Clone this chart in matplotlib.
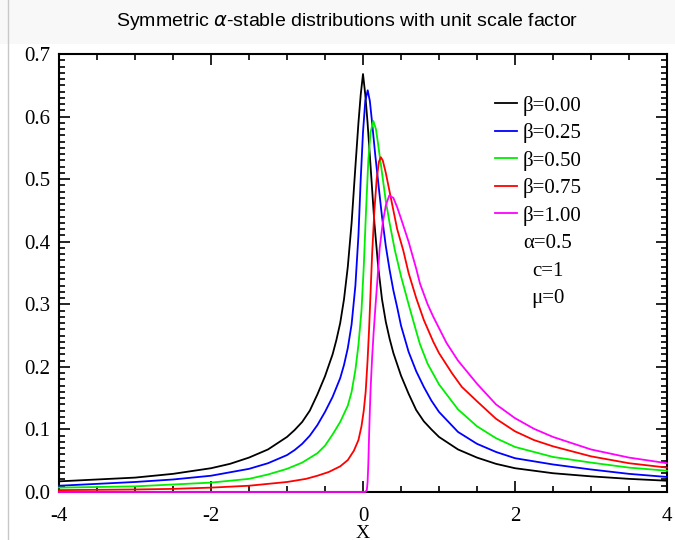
import numpy as np
import matplotlib
matplotlib.use('Agg')
import matplotlib.pyplot as plt
from matplotlib.ticker import MultipleLocator, FormatStrFormatter

# values
x_b000 = [-4, -3.5, -3, -2.5, -2, -1.75, -1.5, -1.25, -1, -0.9, -0.8, -0.7, -0.6, -0.5, -0.4, -0.35, -0.3, -0.25,
          -0.2, -0.15, -0.1, -0.06, -0.03, 0,
          0.03, 0.06, 0.1, 0.15, 0.2, 0.25, 0.3, 0.35, 0.4, 0.5, 0.6, 0.7, 0.8, 0.9, 1, 1.25, 1.5, 1.75,
          2, 2.5, 3, 3.5, 4]
y_b000 = [0.017, 0.020, 0.023, 0.029, 0.038, 0.045, 0.055, 0.068, 0.088, 0.099, 0.112, 0.130, 0.156, 0.185, 0.220, 0.243, 0.270, 0.308,
          0.36, 0.43, 0.52, 0.59, 0.635, 0.668,
          0.635, 0.59, 0.52, 0.43, 0.36, 0.308, 0.272, 0.245, 0.222, 0.186, 0.157, 0.131, 0.113, 0.100, 0.088, 0.068, 0.055, 0.045,
          0.038, 0.030, 0.025, 0.021, 0.018]

x_b025 = [-4, -3.5, -3, -2.5, -2, -1.5, -1.25, -1, -0.9, -0.8, -0.7, -0.6, -0.5, -0.4, -0.3, -0.25, -0.2, -0.15,
          -0.1, -0.06, -0.03, 0, 0.03, 0.062,
          0.09, 0.12, 0.16, 0.2, 0.25, 0.3, 0.35, 0.4, 0.45, 0.5, 0.6, 0.7, 0.8, 0.9, 1, 1.25, 1.5, 1.75,
          2, 2.5, 3, 3.5, 4]
y_b025 = [0.010, 0.013, 0.016, 0.020, 0.026, 0.037, 0.046, 0.059, 0.067, 0.077, 0.090, 0.107, 0.128, 0.152, 0.182, 0.203, 0.230, 0.268,
          0.33, 0.41, 0.50, 0.575, 0.625, 0.642,
          0.625, 0.59, 0.54, 0.495, 0.44, 0.393, 0.355, 0.322, 0.295, 0.266, 0.224, 0.193, 0.168, 0.146, 0.128, 0.096, 0.077, 0.064,
          0.054, 0.044, 0.036, 0.029, 0.024]

x_b050 = [-4, -3.5, -3, -2.5, -2, -1.5, -1.25, -1, -0.8, -0.6, -0.5, -0.4, -0.3, -0.2, -0.15, -0.1, -0.06, -0.02,
          0.01, 0.04, 0.07, 0.1, 0.136,
          0.17, 0.2, 0.25, 0.3, 0.35, 0.42, 0.5, 0.6, 0.7, 0.75, 0.85, 1, 1.25, 1.5, 1.75, 2, 2.5, 3, 3.5, 4]
y_b050 = [0.007, 0.008, 0.009, 0.012, 0.015, 0.021, 0.028, 0.037, 0.047, 0.062, 0.074, 0.092, 0.112, 0.138, 0.160, 0.195, 0.235, 0.29,
          0.36, 0.45, 0.53, 0.575, 0.593,
          0.58, 0.555, 0.51, 0.465, 0.43, 0.386, 0.345, 0.30, 0.257, 0.236, 0.205, 0.172, 0.132, 0.105, 0.086, 0.072, 0.056, 0.047, 0.039, 0.034]

x_b075 = [-4, -3, -2.5, -2, -1.5, -1, -0.75, -0.6, -0.45, -0.3, -0.2, -0.12, -0.06, -0.02, 0.01, 0.035, 0.06, 0.08,
          0.1, 0.12, 0.15, 0.18, 0.21, 0.235,
          0.26, 0.3, 0.35, 0.4, 0.45, 0.53, 0.6, 0.7, 0.8, 0.925, 1, 1.17, 1.3, 1.5, 1.75, 2, 2.25, 2.5, 3, 3.5, 4]
y_b075 = [0.003, 0.004, 0.005, 0.007, 0.010, 0.016, 0.021, 0.026, 0.032, 0.041, 0.051, 0.066, 0.083, 0.105, 0.13, 0.16, 0.21, 0.26,
          0.32, 0.38, 0.45, 0.50, 0.528, 0.535,
          0.53, 0.51, 0.48, 0.45, 0.42, 0.386, 0.35, 0.31, 0.275, 0.24, 0.222, 0.19, 0.168, 0.145, 0.117, 0.097, 0.083, 0.073, 0.057, 0.046, 0.039]

x_b100 = [-4, 0.03, 0.05, 0.06, 0.07, 0.08, 0.09, 0.1, 0.12, 0.14, 0.16, 0.19, 0.22, 0.26, 0.3, 0.346,
          0.4, 0.45, 0.5, 0.6, 0.7, 0.75, 0.85, 0.925, 1.0, 1.1, 1.25, 1.5, 1.75, 2.0, 2.25, 2.5, 3.0, 3.5, 4.0]
y_b100 = [0.0, 0.0, 0.003, 0.015, 0.045, 0.09, 0.13, 0.165, 0.215, 0.255, 0.29, 0.34, 0.39, 0.43, 0.458, 0.474,
          0.47, 0.455, 0.437, 0.40, 0.357, 0.333, 0.30, 0.28, 0.262, 0.238, 0.21, 0.173, 0.140, 0.118, 0.101, 0.088, 0.068, 0.055, 0.046]

labels = ['β=0.00', 'β=0.25', 'β=0.50', 'β=0.75', 'β=1.00']
colors = ['black', '#0000ff', '#00ee00', '#ff0000', '#ff00ff']
series = [(x_b000, y_b000), (x_b025, y_b025), (x_b050, y_b050), (x_b075, y_b075), (x_b100, y_b100)]
params = ['α=0.5', 'c=1', 'μ=0']

serif = ['Liberation Serif', 'DejaVu Serif']

fig = plt.figure(figsize=(6.75, 5.4), dpi=100)
ax = fig.add_axes([59/675, 1 - 492/540, 608/675, 438/540])

# page-like frame around the figure
fig.patches.append(plt.Rectangle((0, 1 - 44/540), 1, 44/540, transform=fig.transFigure,
                                 facecolor='#f8f8f8', edgecolor='none', zorder=0))
fig.lines.append(plt.Line2D([8/675, 8/675], [0, 1], transform=fig.transFigure, color='#c8c8c8', lw=1))

for (xs, ys), c, lab in zip(series, colors, labels):
    ax.plot(xs, ys, color=c, lw=1.3, label=lab, clip_on=False, zorder=3)

ax.set_xlim(-4, 4)
ax.set_ylim(0, 0.7)
ax.xaxis.set_major_locator(MultipleLocator(2))
ax.xaxis.set_minor_locator(MultipleLocator(0.5))
ax.yaxis.set_major_locator(MultipleLocator(0.1))
ax.yaxis.set_minor_locator(MultipleLocator(0.01))
ax.yaxis.set_major_formatter(FormatStrFormatter('%.1f'))
ax.xaxis.set_major_formatter(FormatStrFormatter('%d'))
ax.tick_params(which='both', direction='in', top=True, right=True, width=1.2)
ax.tick_params(which='major', length=8, labelsize=15)
ax.tick_params(which='minor', length=4.5)
ax.tick_params(axis='x', which='major', pad=11)
ax.tick_params(axis='y', which='major', pad=6)
for lab in ax.get_xticklabels() + ax.get_yticklabels():
    lab.set_family(serif)
for s in ax.spines.values():
    s.set_linewidth(1.5)

fig.text(363/675, 1 - 533/540, 'X', family=serif, fontsize=14, ha='center', va='center')

leg = ax.legend(loc='upper left', bbox_to_anchor=(0.717, 0.905), frameon=False,
                prop={'family': serif, 'size': 15}, handlelength=1.05, handletextpad=0.3,
                labelspacing=0.36, borderpad=0, borderaxespad=0)

for i, t in enumerate(params):
    ax.text(548, 540 - (244 + 27 * i), t, transform=None, fontsize=15, family=serif, ha='center', va='center')

fig.text(347/675, 1 - 22/540, r'Symmetric $\alpha$-stable distributions with unit scale factor',
         ha='center', va='center', fontsize=14, family=['Liberation Sans', 'DejaVu Sans'])

fig.savefig('out.png', dpi=100)
